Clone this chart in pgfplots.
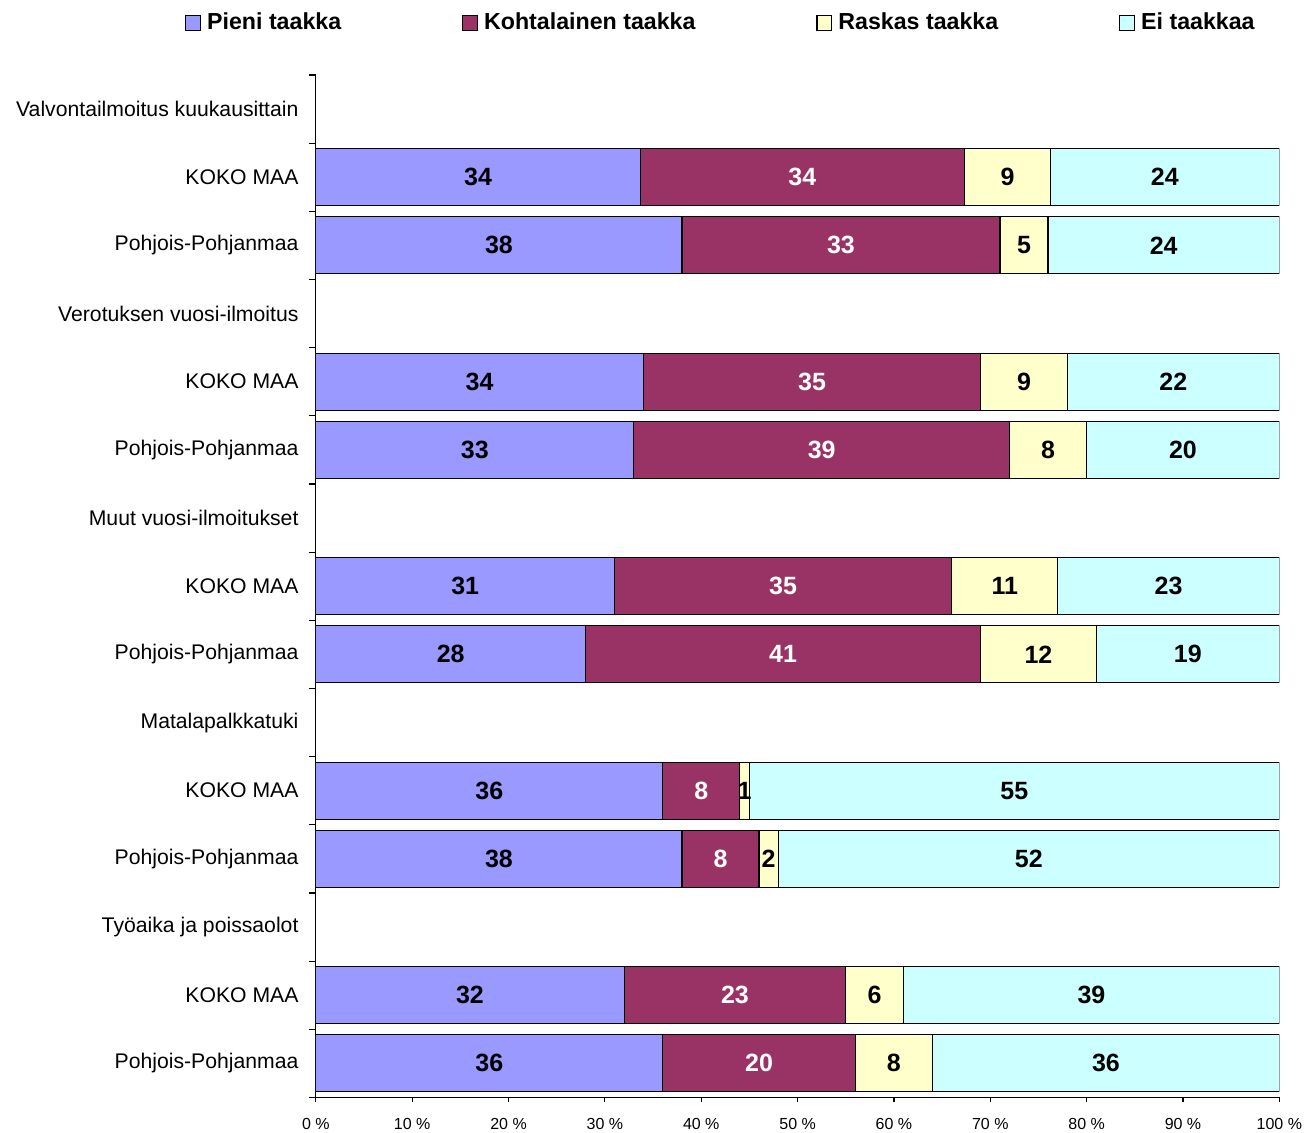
\documentclass[border=0pt]{standalone}
\usepackage{pgfplots}
\pgfplotsset{compat=1.18}
\usepackage{pgfplotstable}
\usepackage{fontspec}
\setmainfont{Liberation Sans}
\definecolor{cA}{HTML}{9999FF}
\definecolor{cB}{HTML}{993366}
\definecolor{cC}{HTML}{FFFFCC}
\definecolor{cD}{HTML}{CCFFFF}

\pgfplotstableread{
y a b c d tot
1 34 34 9 24 101
2 38 33 5 24 100
4 34 35 9 22 100
5 33 39 8 20 100
7 31 35 11 23 100
8 28 41 12 19 100
10 36 8 1 55 100
11 38 8 2 52 100
13 32 23 6 39 100
14 36 20 8 36 100
}\data

\begin{document}
\begin{tikzpicture}
\begin{axis}[
  scale only axis, width=482pt, height=511.5pt,
  xbar stacked, bar width=28.5pt,
  /pgf/number format/assume math mode=true,
  xmin=0, xmax=100, ymin=-0.5, ymax=14.5, y dir=reverse,
  axis x line*=bottom, axis y line*=left,
  axis line style={-, black, line width=0.6pt},
  xtick={0,10,...,100},
  xticklabel={\pgfmathprintnumber{\tick}~\%},
  xticklabel style={font=\fontsize{8}{9}\selectfont, inner sep=1pt, yshift=-7pt},
  ytick={0,...,14},
  yticklabels={Valvontailmoitus kuukausittain, KOKO MAA, Pohjois-Pohjanmaa,
    Verotuksen vuosi-ilmoitus, KOKO MAA, Pohjois-Pohjanmaa,
    Muut vuosi-ilmoitukset, KOKO MAA, Pohjois-Pohjanmaa,
    Matalapalkkatuki, KOKO MAA, Pohjois-Pohjanmaa,
    Työaika ja poissaolot, KOKO MAA, Pohjois-Pohjanmaa},
  yticklabel style={font=\fontsize{10.6}{12}\selectfont, inner sep=1pt, xshift=-5pt},
  minor ytick={-0.5,0.5,...,14.5},
  tick align=outside, major tick length=2.5pt, minor tick length=3.5pt,
  tick style={black, line width=0.6pt},
  major y tick style={draw=none},
  point meta=explicit,
  nodes near coords,
  every node near coord/.append style={font=\bfseries\fontsize{12.5}{14}\selectfont},
  legend columns=-1,
  legend cell align=left,
  legend image code/.code={\draw[#1, draw=black, line width=0.6pt] (0pt,-3.7pt) rectangle (7.4pt,3.7pt);},
  legend style={at={(axis description cs:-0.136,1.051)}, anchor=west, draw=none,
    inner sep=0pt, font=\bfseries\fontsize{11.6}{13}\selectfont,
    /tikz/every odd column/.append style={column sep=1pt},
    /tikz/every even column/.append style={column sep=58.5pt}},
]
\addplot[fill=cA, draw=black, line width=0.6pt] table[y=y, x expr=\thisrow{a}/\thisrow{tot}*100, meta=a] {\data};
\addplot[fill=cB, draw=black, line width=0.6pt, every node near coord/.append style={text=white}] table[y=y, x expr=\thisrow{b}/\thisrow{tot}*100, meta=b] {\data};
\addplot[fill=cC, draw=black, line width=0.6pt] table[y=y, x expr=\thisrow{c}/\thisrow{tot}*100, meta=c] {\data};
\addplot[fill=cD, draw=black, line width=0.6pt] table[y=y, x expr=\thisrow{d}/\thisrow{tot}*100, meta=d] {\data};
\legend{Pieni taakka, Kohtalainen taakka, Raskas taakka, Ei taakkaa}
\coordinate (bl) at (axis description cs:0,0);
\coordinate (tr) at (axis description cs:1,1);
\end{axis}
\path ([xshift=-158pt,yshift=-17.5pt]bl) rectangle ([xshift=12pt,yshift=37.5pt]tr);
\end{tikzpicture}
\end{document}
